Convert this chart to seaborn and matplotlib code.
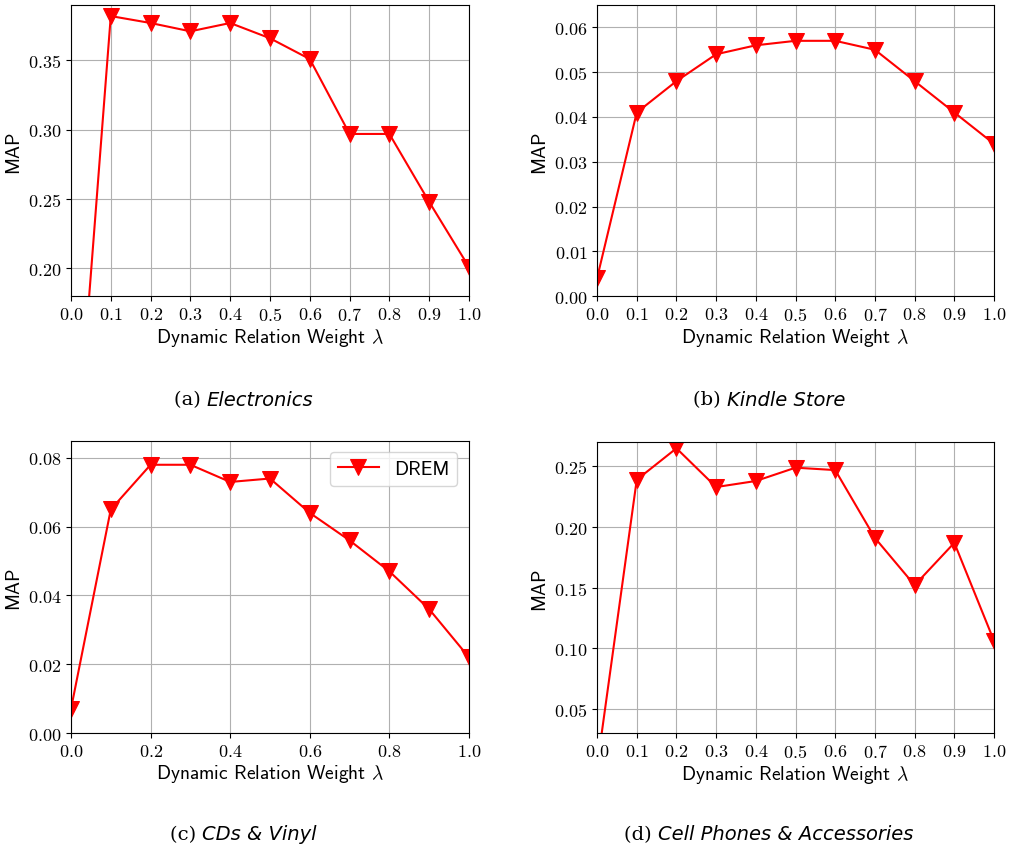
import matplotlib
matplotlib.use("Agg")
import matplotlib.pyplot as plt
import seaborn as sns
import numpy as np

# lambda values and MAP per dataset
lam = [0.0, 0.1, 0.2, 0.3, 0.4, 0.5, 0.6, 0.7, 0.8, 0.9, 1.0]
map_electronics = [0.010, 0.382, 0.377, 0.371, 0.377, 0.366, 0.351, 0.297, 0.297, 0.248, 0.201]
map_kindle = [0.004, 0.041, 0.048, 0.054, 0.056, 0.057, 0.057, 0.055, 0.048, 0.041, 0.034]
map_cds = [0.007, 0.065, 0.078, 0.078, 0.073, 0.074, 0.064, 0.056, 0.047, 0.036, 0.022]
map_phones = [0.002, 0.239, 0.265, 0.233, 0.238, 0.249, 0.247, 0.191, 0.152, 0.187, 0.106]

letters = ["(a)", "(b)", "(c)", "(d)"]
names = ["Electronics", "Kindle Store", "CDs & Vinyl", "Cell Phones & Accessories"]

plt.rcParams['mathtext.fontset'] = 'cm'
plt.rcParams['axes.formatter.use_mathtext'] = True

fig = plt.figure(figsize=(10.14, 8.54), dpi=100)

# axes rectangles in figure fractions
rects = [
    [0.070, 0.652, 0.3925, 0.341],
    [0.5888, 0.652, 0.3915, 0.341],
    [0.070, 0.1405, 0.3925, 0.3423],
    [0.5888, 0.1405, 0.3915, 0.3405],
]
series = [map_electronics, map_kindle, map_cds, map_phones]
ylims = [(0.18, 0.39), (0.0, 0.065), (0.0, 0.085), (0.03, 0.27)]
yticks = [np.arange(0.20, 0.36, 0.05), np.arange(0, 0.061, 0.01),
          np.arange(0, 0.081, 0.02), np.arange(0.05, 0.26, 0.05)]
xticks = [np.arange(0, 1.01, 0.1), np.arange(0, 1.01, 0.1),
          np.arange(0, 1.01, 0.2), np.arange(0, 1.01, 0.1)]

for i in range(4):
    ax = fig.add_axes(rects[i])
    sns.lineplot(x=lam, y=series[i], ax=ax, color='red', marker='v',
                 markersize=11, markeredgecolor='red', linewidth=1.5,
                 label='DREM' if i == 2 else None, legend=(i == 2))
    ax.set_xlim(0, 1.0)
    ax.set_ylim(*ylims[i])
    ax.set_xticks(xticks[i])
    ax.set_yticks(yticks[i])
    for lab in ax.get_xticklabels() + ax.get_yticklabels():
        lab.set_fontfamily('cmr10')
        lab.set_fontsize(13)
    ax.grid(True)
    ax.set_xlabel(r"Dynamic Relation Weight $\lambda$", family='cmss10', fontsize=14, labelpad=2)
    ax.set_ylabel("MAP", family='cmss10', fontsize=14)
    if i == 2:
        ax.legend(loc='upper right', prop={'family': 'cmss10', 'size': 14},
                  handlelength=2.1, borderaxespad=0.6)

# captions: "(x)" upright, dataset name italic sans
cap_x = [243.5 / 1014, 769 / 1014, 243.5 / 1014, 769 / 1014]
cap_y = [1 - 400 / 854, 1 - 400 / 854, 1 - 835 / 854, 1 - 835 / 854]
fig.canvas.draw()
renderer = fig.canvas.get_renderer()
for i in range(4):
    t1 = fig.text(0, cap_y[i], letters[i] + " ", fontsize=14, family='DejaVu Serif', va='center')
    t2 = fig.text(0, cap_y[i], names[i], fontsize=14, family='DejaVu Sans', style='italic', va='center')
    w1 = t1.get_window_extent(renderer).width / fig.bbox.width
    w2 = t2.get_window_extent(renderer).width / fig.bbox.width
    x0 = cap_x[i] - (w1 + w2) / 2
    t1.set_x(x0)
    t2.set_x(x0 + w1)

plt.savefig("out.png", dpi=100)
